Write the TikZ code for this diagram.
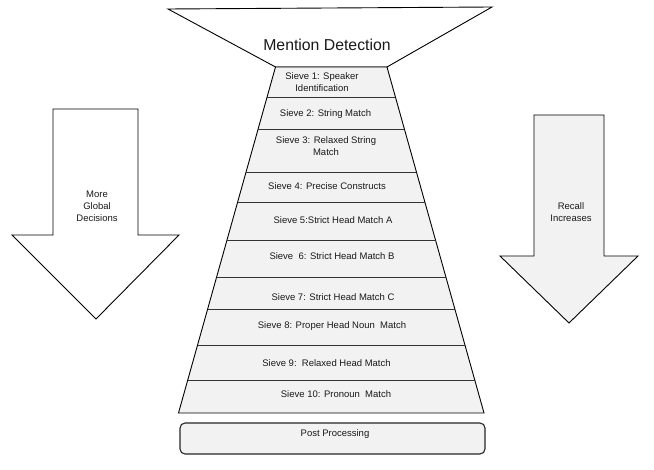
\documentclass[tikz,border=0pt]{standalone}
\usepackage{fontspec}
\setmainfont{Liberation Sans}
\definecolor{sievefill}{HTML}{F2F2F2}
\definecolor{txt}{HTML}{1A1A1A}
\begin{document}
\begin{tikzpicture}[x=1pt,y=-1pt,
  outline/.style={draw=black,line width=0.9pt,line join=miter},
  sep/.style={draw=black!80,line width=0.9pt},
  lbl/.style={text=txt,font=\fontsize{9.5}{12}\selectfont,align=center,inner sep=0pt},
  biglbl/.style={text=txt,font=\fontsize{15.8}{18}\selectfont,inner sep=0pt}]
\useasboundingbox (0,0) rectangle (654,470);
% funnel top (mention detection)
\draw[outline,fill=white] (168,9) -- (492,7) -- (387,67) -- (275.5,67) -- cycle;
\node[biglbl] (md) at (327,45) {Mention Detection};
% sieve body
\draw[outline,fill=sievefill] (275.5,67) -- (387,67) -- (484,413) -- (178.5,413) -- cycle;
% separators
\coordinate (l1) at (267.1,97);  \coordinate (r1) at (395.4,97);
\coordinate (l2) at (258.1,129); \coordinate (r2) at (404.4,129);
\coordinate (l3) at (246.1,172); \coordinate (r3) at (416.4,172);
\coordinate (l4) at (237.7,202); \coordinate (r4) at (424.8,202);
\coordinate (l5) at (227.0,240); \coordinate (r5) at (435.5,240);
\coordinate (l6) at (216.6,277); \coordinate (r6) at (445.9,277);
\coordinate (l7) at (207.7,309); \coordinate (r7) at (454.8,309);
\coordinate (l8) at (197.6,345); \coordinate (r8) at (464.9,345);
\coordinate (l9) at (187.8,380); \coordinate (r9) at (474.7,380);
\foreach \i in {1,...,9} { \draw[sep] (l\i) -- (r\i); }
% sieve labels
\node[lbl] (s1) at (322,82) {Sieve 1: Speaker\\ Identification};
\node[lbl] (s2) at (325.5,114) {Sieve 2: String Match};
\node[lbl] (s3) at (326,146) {Sieve 3: Relaxed String\\Match};
\node[lbl] (s4) at (327,186) {Sieve 4: Precise Constructs};
\node[lbl] (s5) at (333,220) {Sieve 5:Strict Head Match A};
\node[lbl] (s6) at (332,256) {Sieve\ \ 6: Strict Head Match B};
\node[lbl] (s7) at (333,297) {Sieve 7: Strict Head Match C};
\node[lbl] (s8) at (332,326) {Sieve 8: Proper Head Noun\ \ Match};
\node[lbl] (s9) at (326.5,363) {Sieve 9:\ \ Relaxed Head Match};
\node[lbl] (s10) at (336,394) {Sieve 10: Pronoun\ \ Match};
% post processing
\draw[draw=black!85,line width=1.1pt,fill=sievefill,rounded corners=5pt] (180,423) rectangle (485,454);
\node[lbl] (pp) at (335,434) {Post Processing};
% left arrow
\draw[outline,fill=white] (53,109) -- (138,109) -- (138,235) -- (179,235) -- (96,319) -- (12,235) -- (53,235) -- cycle;
\node[lbl] (la) at (97,206) {More\\Global\\Decisions};
% right arrow
\draw[outline,fill=sievefill] (534,115) -- (604,115) -- (604,256) -- (638,256) -- (569,323) -- (500,256) -- (534,256) -- cycle;
\node[lbl] (ra) at (571,212.5) {Recall\\Increases};
\end{tikzpicture}
\end{document}
